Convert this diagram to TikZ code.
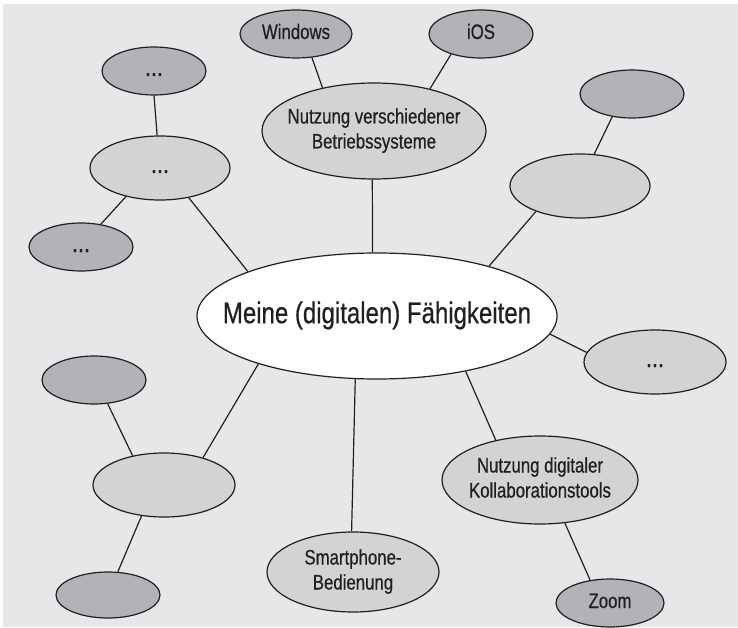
\documentclass[tikz,border=0pt]{standalone}
\usepackage{fontspec}
\setmainfont{Liberation Sans}[FakeStretch=0.8,FakeBold=0.6]
\usetikzlibrary{shapes.geometric}
\definecolor{bg}{HTML}{E6E7E8}
\definecolor{lightfill}{HTML}{D1D3D4}
\definecolor{darkfill}{HTML}{B1B3B6}
\definecolor{ink}{HTML}{231F20}
\newcommand{\elltext}[1]{\makebox[0pt]{\begin{tabular}{@{}c@{}}#1\end{tabular}}}
\newcommand{\elldots}{\elltext{\fontsize{27}{30}\selectfont...}}

\begin{document}
\begin{tikzpicture}[x=1pt,y=-1pt,line width=1.2pt,
    bubble/.style={ellipse,draw=ink,inner sep=0pt,text=ink,font=\fontsize{21}{25}\selectfont},
    lightbubble/.style={bubble,fill=lightfill},
    darkbubble/.style={bubble,fill=darkfill},
    mainbubble/.style={bubble,fill=white,font=\fontsize{30}{36}\selectfont}]
                    \useasboundingbox (0,0) rectangle (738,628);
                    \fill[bg] (3,4) rectangle (738,627);

                    %NODE
                    \node[mainbubble,minimum width=360pt,minimum height=126pt] (A) at (377,316){\elltext{Meine (digitalen) Fähigkeiten}};
                    \node[lightbubble,minimum width=224pt,minimum height=96pt] (B) at (374,131){\elltext{Nutzung verschiedener\\Betriebssysteme}};
                    \node[darkbubble,minimum width=112pt,minimum height=48pt] (C) at (296,34){\elltext{Windows}};
                    \node[darkbubble,minimum width=104pt,minimum height=48pt] (D) at (481,34){\elltext{iOS}};
                    \node[darkbubble,minimum width=104pt,minimum height=48pt] (E) at (154,71){\elldots};
                    \node[lightbubble,minimum width=140pt,minimum height=64pt] (F) at (160,168){\elldots};
                    \node[darkbubble,minimum width=104pt,minimum height=48pt] (G) at (81,247){\elldots};
                    \node[darkbubble,minimum width=104pt,minimum height=48pt] (H) at (632,94){};
                    \node[lightbubble,minimum width=140pt,minimum height=64pt] (I) at (580,186){};
                    \node[lightbubble,minimum width=142pt,minimum height=64pt] (J) at (655,362){\elldots};
                    \node[lightbubble,minimum width=196pt,minimum height=88pt] (K) at (540,480){\elltext{Nutzung digitaler\\Kollaborationstools}};
                    \node[darkbubble,minimum width=108pt,minimum height=48pt] (L) at (610,603){\elltext{Zoom}};
                    \node[lightbubble,minimum width=172pt,minimum height=80pt] (M) at (353,572){\elltext{Smartphone-\\Bedienung}};
                    \node[lightbubble,minimum width=142pt,minimum height=64pt] (N) at (164,485){};
                    \node[darkbubble,minimum width=104pt,minimum height=48pt] (O) at (94,380){};
                    \node[darkbubble,minimum width=104pt,minimum height=46pt] (P) at (108,595){};

                    %EDGE
                    \draw[ink] (A.94) -- (B.268);
                    \draw[ink] (C.-56) -- (B.140);
                    \draw[ink] (D.214) -- (B.37);
                    \draw[ink] (E.270) -- (F.95);
                    \draw[ink] (F.220) -- (G.49);
                    \draw[ink] (F.314) -- (A.161);
                    \draw[ink] (A.24) -- (I.210);
                    \draw[ink] (I.66) -- (H.229);
                    \draw[ink] (A.-6) -- (J.172);
                    \draw[ink] (A.-32) -- (K.138);
                    \draw[ink] (K.-60) -- (L.131);
                    \draw[ink] (A.251) -- (M.92);
                    \draw[ink] (A.202) -- (N.35);
                    \draw[ink] (O.300) -- (N.137);
                    \draw[ink] (N.234) -- (P.67);
                \end{tikzpicture}
\end{document}
